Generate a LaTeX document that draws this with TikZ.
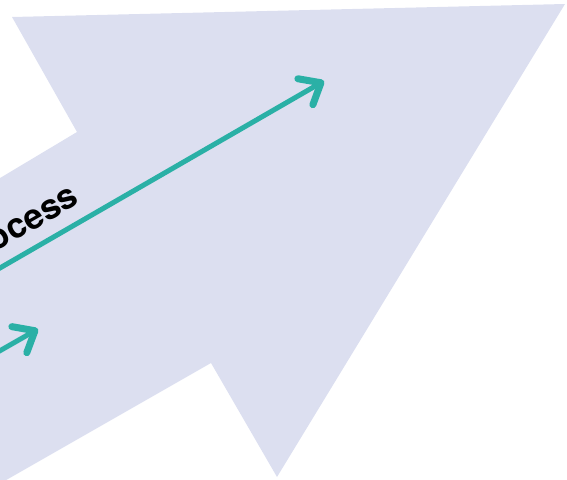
\documentclass[tikz,border=0pt]{standalone}
\usepackage{fontspec}
\setmainfont{TeX Gyre Heros}
\usetikzlibrary{arrows.meta}
\definecolor{lav}{RGB}{220,223,240}
\definecolor{teal2}{RGB}{42,176,166}
\begin{document}
\begin{tikzpicture}[x=1pt,y=-1pt,
  flow/.style={draw=teal2, line width=5pt, line cap=round,
    -{Straight Barb[length=18pt,width=30pt,line width=7pt,line cap=round,line join=round]}},
  label/.style={font=\bfseries\fontsize{35}{35}\selectfont, text=black, inner sep=0pt, rotate=29.9}]
\useasboundingbox (0,0) rectangle (567,479);
\fill[lav] (12,17) -- (565,4) -- (277,477) -- (211,363) -- (-20,495) -- (-20,190) -- (77,132) -- cycle;
\coordinate (s1) at (-20,279.5);
\coordinate (t1) at (324,81);
\coordinate (s2) at (-60,385);
\coordinate (t2) at (38,329);
\draw[flow] (s1) -- (t1);
\draw[flow] (s2) -- (t2);
\node[label, anchor=base east] (lbl) at (81,203) {Process};
\end{tikzpicture}
\end{document}
